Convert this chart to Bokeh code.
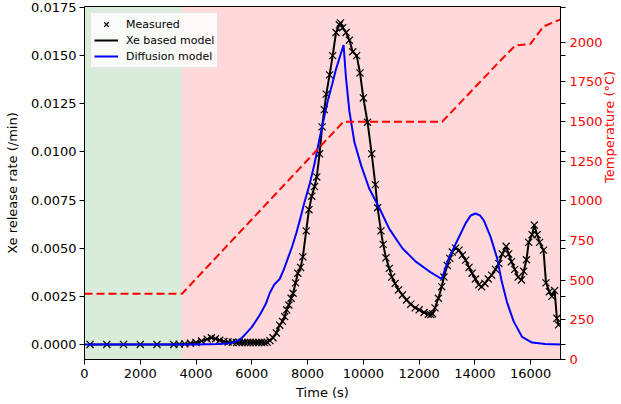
import math
from bokeh.plotting import figure
from bokeh.models import (Range1d, LinearAxis, FixedTicker, PrintfTickFormatter,
                          BoxAnnotation, Legend, LegendItem)
from bokeh.embed import file_html
from bokeh.resources import INLINE

# ---------------- data ----------------
phase_edges = [0, 3500, 17070]
phase_colors = ["green", "red"]

meas_t = [200, 800, 1400, 2000, 2600, 3200, 3400, 3600, 3800, 4000,
          4200, 4400, 4550, 4700, 4850, 5000, 5150, 5300, 5450, 5550,
          5650, 5750, 5850, 5950, 6050, 6150, 6250, 6350, 6450, 6550,
          6650, 6760, 6880, 7000, 7100, 7180, 7250, 7330, 7410, 7480,
          7570, 7650, 7750, 7830, 7950, 8050, 8150, 8250, 8330, 8430,
          8520, 8600, 8670, 8790, 8900, 9020, 9140, 9180, 9260, 9380,
          9500, 9620, 9760, 9880, 10000, 10150, 10300, 10430, 10510, 10630,
          10710, 10810, 10930, 11020, 11140, 11260, 11400, 11550, 11700, 11860,
          12000, 12180, 12330, 12420, 12480, 12570, 12690, 12810, 12890, 13010,
          13100, 13190, 13310, 13430, 13550, 13670, 13790, 13900, 14020, 14140,
          14240, 14360, 14480, 14600, 14740, 14860, 14980, 15120, 15210, 15310,
          15430, 15550, 15670, 15750, 15850, 15930, 16050, 16130, 16230, 16320,
          16460, 16550, 16670, 16760, 16860, 16940, 17000]
meas_y = [0, 0, 0, 0, 0, 0, 0.00002, 0.00003, 0.00006, 0.0001,
          0.00018, 0.00028, 0.00035, 0.0003, 0.00022, 0.00016, 0.00013, 0.00012, 0.0001, 0.0001,
          0.0001, 0.0001, 0.0001, 0.0001, 0.0001, 0.0001, 0.0001, 0.0001, 0.0001, 0.00012,
          0.0002, 0.00035, 0.0006, 0.001, 0.0012, 0.00145, 0.0018, 0.00205, 0.0024, 0.00266,
          0.0032, 0.0037, 0.0040, 0.00455, 0.0059, 0.0070, 0.0077, 0.0082, 0.0087, 0.0099,
          0.0113, 0.0122, 0.0130, 0.0140, 0.0150, 0.0162, 0.0166, 0.0167, 0.01645, 0.0162,
          0.0158, 0.0152, 0.0150, 0.0141, 0.0128, 0.01154, 0.0099, 0.0083, 0.0071, 0.0059,
          0.0052, 0.0045, 0.00395, 0.0035, 0.00317, 0.00283, 0.00257, 0.00231, 0.00209, 0.0019,
          0.0018, 0.00166, 0.00157, 0.00155, 0.0016, 0.0019, 0.0024, 0.0030, 0.0035, 0.0041,
          0.00447, 0.0048, 0.0050, 0.0049, 0.00464, 0.00438, 0.0040, 0.0037, 0.0034, 0.0031,
          0.0030, 0.00317, 0.0034, 0.0036, 0.0039, 0.0042, 0.0047, 0.0051, 0.0047, 0.0043,
          0.0039, 0.0035, 0.00335, 0.0038, 0.0044, 0.0053, 0.0057, 0.0062, 0.0057, 0.0053,
          0.0049, 0.0032, 0.00274, 0.0025, 0.0028, 0.00136, 0.00102]

diff_t = [0, 1000, 2000, 3000, 4000, 4800, 5200, 5450, 5650, 5810,
          6000, 6290, 6500, 6640, 6800, 7000, 7150, 7300, 7450, 7600,
          7750, 7890, 8070, 8250, 8430, 8580, 8730, 8880, 9020, 9150,
          9290, 9380, 9500, 9680, 9920, 10210, 10570, 10930, 11400, 11880,
          12360, 12810, 13070, 13370, 13670, 13850, 14020, 14180, 14320, 14560,
          14800, 14950, 15150, 15390, 15690, 16050, 16520, 17070]
diff_y = [0, 0, 0, 0, 0, 0.00002, 0.00006, 0.00016, 0.00035, 0.0006,
          0.0009, 0.00154, 0.0021, 0.00266, 0.0031, 0.0034, 0.0039, 0.0045, 0.0051, 0.0058,
          0.0066, 0.0074, 0.0083, 0.0094, 0.0107, 0.0117, 0.0127, 0.0135, 0.0143, 0.0149,
          0.01555, 0.0138, 0.0121, 0.0105, 0.0093, 0.0081, 0.0071, 0.0060, 0.0050, 0.0043,
          0.0038, 0.0034, 0.0045, 0.0054, 0.0063, 0.0067, 0.0068, 0.0067, 0.00645, 0.0056,
          0.00447, 0.00335, 0.0022, 0.0012, 0.0004, 0.0001, 0.00002, 0]

temp_t = [0, 3500, 9290, 12830, 14860, 15450, 15990, 16460, 17070]
temp_c = [415, 415, 1500, 1500, 1875, 1980, 1990, 2100, 2145]

x_lim = [0, 17070]
rate_lim = [-0.00078, 0.01755]
temp_lim = [0, 2226]
x_ticks = [0, 2000, 4000, 6000, 8000, 10000, 12000, 14000, 16000]
rate_ticks = [0, 0.0025, 0.005, 0.0075, 0.01, 0.0125, 0.015, 0.0175]
temp_ticks = [0, 250, 500, 750, 1000, 1250, 1500, 1750, 2000]

FONT = "DejaVu Sans"
FS = "13px"

p = figure(width=627, height=402, output_backend="svg", toolbar_location=None,
           x_range=Range1d(*x_lim), y_range=Range1d(*rate_lim),
           min_border_left=84, min_border_right=50, min_border_top=6,
           min_border_bottom=36)
p.background_fill_color = "white"
p.border_fill_color = "white"
p.outline_line_color = "black"
p.outline_line_width = 1
p.outline_line_alpha = 1
p.xgrid.visible = False
p.ygrid.visible = False

p.extra_y_ranges = {"temp": Range1d(*temp_lim)}

for i, c in enumerate(phase_colors):
    p.add_layout(BoxAnnotation(left=phase_edges[i], right=phase_edges[i + 1],
                               fill_color=c, fill_alpha=0.15, line_alpha=0,
                               level="underlay"))

r_meas = p.scatter(meas_t, meas_y, marker="x", size=10, line_color="black", line_width=1.2)
r_xe = p.line(meas_t, meas_y, line_color="black", line_width=2)
r_diff = p.line(diff_t, diff_y, line_color="blue", line_width=2)
p.line(temp_t, temp_c, line_color="red", line_width=2, line_dash="8 4", y_range_name="temp")

def style_axis(ax, color="black"):
    ax.major_label_text_font = FONT
    ax.major_label_text_font_size = FS
    ax.major_label_text_color = color
    ax.axis_label_text_font = FONT
    ax.axis_label_text_font_size = FS
    ax.axis_label_text_font_style = "normal"
    ax.axis_label_text_color = color
    ax.axis_line_color = "black"
    ax.major_tick_line_color = "black"
    ax.minor_tick_line_color = "black"
    ax.major_tick_out = 5
    ax.major_tick_in = 0
    ax.minor_tick_out = 0
    ax.minor_tick_in = 0
    ax.major_label_standoff = 3

xa = p.xaxis[0]
xa.ticker = FixedTicker(ticks=x_ticks)
xa.axis_label = "Time (s)"
style_axis(xa)
xa.major_label_standoff = 4
xa.axis_label_standoff = 4

ya = p.yaxis[0]
ya.ticker = FixedTicker(ticks=rate_ticks)
ya.formatter = PrintfTickFormatter(format="%.4f")
ya.axis_label = "Xe release rate (/min)"
style_axis(ya)
ya.axis_label_standoff = 8

mirror = [temp_lim[0] + (v - rate_lim[0]) / (rate_lim[1] - rate_lim[0]) * (temp_lim[1] - temp_lim[0])
          for v in rate_ticks]
ra = LinearAxis(y_range_name="temp", ticker=FixedTicker(ticks=temp_ticks, minor_ticks=mirror),
                axis_label="Temperature (°C)")
style_axis(ra, color="red")
ra.minor_tick_out = 5
ra.major_label_standoff = 4
ra.axis_label_standoff = 4
ra.axis_label_orientation = math.pi / 2
p.add_layout(ra, "right")

legend = Legend(items=[LegendItem(label="Measured", renderers=[r_meas]),
                       LegendItem(label="Xe based model", renderers=[r_xe]),
                       LegendItem(label="Diffusion model", renderers=[r_diff])],
                location="top_left")
legend.label_text_font = FONT
legend.label_text_font_size = "11px"
legend.label_text_color = "black"
legend.label_height = 16
legend.glyph_height = 16
legend.glyph_width = 24
legend.label_standoff = 8
legend.spacing = 0
legend.padding = 3
legend.margin = 6
legend.background_fill_color = "white"
legend.background_fill_alpha = 0.8
legend.border_line_color = "#cccccc"
legend.border_line_width = 1
p.add_layout(legend)

open("out.html", "w").write(file_html(p, INLINE))
